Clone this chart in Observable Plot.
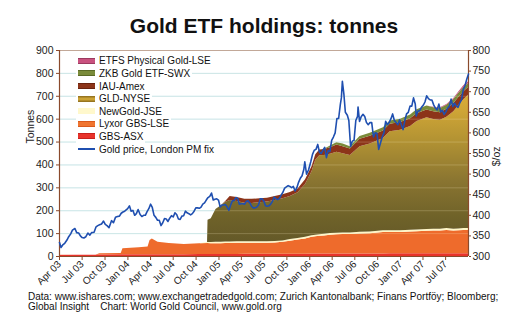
<!DOCTYPE html>
<html><head><meta charset="utf-8">
<script src="https://cdn.jsdelivr.net/npm/d3@7"></script>
<script src="https://cdn.jsdelivr.net/npm/@observablehq/plot@0.6"></script>
<style>
body{margin:0;background:#fff;font-family:"Liberation Sans",Arial,Helvetica,sans-serif;color:#111;}
#wrap{position:relative;width:517px;height:333px;overflow:hidden;}
#title{position:absolute;left:11px;width:506px;top:15px;line-height:21px;text-align:center;font-weight:bold;font-size:21px;color:#111;}
#chart{position:absolute;left:0;top:0;}
#legend{position:absolute;left:76px;top:55.4px;}
.row{height:12.6px;line-height:12.6px;font-size:10px;white-space:nowrap;}
.row span.bg{display:inline-block;background:#fff;padding:0 2px 0 2px;height:12.6px;}
.sw{display:inline-block;width:17px;height:6px;vertical-align:middle;margin-right:4px;margin-top:-2px;box-sizing:border-box;}
#caption{position:absolute;left:28px;top:292px;font-size:10px;line-height:10px;color:#111;white-space:pre;}
</style>
</head><body>
<div id="wrap">
  <div id="chart"></div>
  <div id="title">Gold ETF holdings: tonnes</div>
  <div id="legend"></div>
  <div id="caption"></div>
</div>
<script>
// ---------- data ----------
const stackDates = ["2003-04-01","2003-06-01","2003-08-25","2003-09-10","2003-12-05","2003-12-12","2004-02-15","2004-03-22","2004-03-30","2004-04-08",
"2004-05-01","2004-06-15","2004-08-15","2004-10-15","2004-11-16","2004-11-18","2004-12-01","2004-12-20","2005-01-10","2005-01-28",
"2005-02-15","2005-03-15","2005-04-15","2005-05-15","2005-06-15","2005-07-15","2005-08-15","2005-09-15","2005-10-15","2005-11-15",
"2005-12-15","2006-01-10","2006-01-25","2006-02-10","2006-03-01","2006-03-25","2006-04-20","2006-05-15","2006-06-13","2006-07-22",
"2006-09-01","2006-10-24","2006-11-20","2007-01-01","2007-02-10","2007-03-08","2007-04-17","2007-05-14","2007-06-10","2007-07-06",
"2007-08-03","2007-08-23","2007-09-12","2007-10-01"];
// tonnes held by each fund (layer thickness)
const gbsAsx  = [4,5,5,7,8,8,8,8,8,8, 8,8,8,9,9,9,9,9,9,9, 9,9,10,10,10,10,10,10,10,10, 10,11,11,11,11,11,11,11,11,11, 11,11,12,12,12,12,12,12,12,12, 12,12,12,12];
const lyxor   = [1,1,1,5,5,26,30,34,62,68, 54,49,44,47,48,48,47,47,47,48, 48,49,48,48,48,48,49,52,57,62, 67,73,75,77,79,82,84,85,85,87, 88,94,93,93,95,96,98,99,99,102, 99,100,102,102];
const newGold = [0,0,0,0,0,0,0,0,0,0, 0,0,0,0,4,4,5,6,6,6, 6,6,6,6,6,6,6,6,7,7, 7,7,7,7,7,7,7,7,7,8, 8,8,8,8,8,8,8,8,8,8, 8,8,8,8];
const gld     = [0,0,0,0,0,0,0,0,0,0, 0,0,0,0,0,97,104,143,160,174, 182,176,169,168,171,174,180,184,188,199, 231,279,327,345,344,347,353,346,338,374, 385,402,432,439,453,474,488,479,476,486, 513,540,563,583];
const iau     = [0,0,0,0,0,0,0,0,0,0, 0,0,0,0,0,0,0,0,0,3, 17,18,17,18,17,17,17,18,18,17, 20,22,25,25,26,28,32,31,29,32, 33,33,33,33,34,34,34,34,33,35, 36,35,35,33];
const zkb     = [0,0,0,0,0,0,0,0,0,0, 0,0,0,0,0,0,0,0,0,0, 0,0,0,0,0,0,0,0,0,0, 0,0,0,0,2,8,10,12,10,12, 13,14,14,15,16,17,17,18,19,18, 18,18,18,18];
const etfs    = [0,0,0,0,0,0,0,0,0,0, 0,0,0,0,0,0,0,0,0,0, 0,0,0,0,0,0,0,0,0,0, 0,0,0,0,0,0,0,0,0,0, 0,0,0,0,0,0,1,2,3,3, 4,6,8,8];

const seriesNames  = ["GBS-ASX","Lyxor GBS-LSE","NewGold-JSE","GLD-NYSE","IAU-Amex","ZKB Gold ETF-SWX","ETFS Physical Gold-LSE"];
const seriesValues = [gbsAsx, lyxor, newGold, gld, iau, zkb, etfs];
const seriesColors = ["#e8332b","#ee6b2c","#fff6c6","url(#gldGrad)","#8c3419","#7a8b3a","#c8507e"];

// Gold price, London PM fix ($/oz)
const priceDates = ["2003-04-01","2003-04-07","2003-04-14","2003-04-22","2003-05-01","2003-05-08","2003-05-16","2003-05-23","2003-06-02","2003-06-09","2003-06-17","2003-06-24",
"2003-07-01","2003-07-08","2003-07-16","2003-07-24","2003-08-01","2003-08-08","2003-08-18","2003-08-26","2003-09-02","2003-09-09","2003-09-17","2003-09-25",
"2003-10-02","2003-10-09","2003-10-17","2003-10-27","2003-11-04","2003-11-12","2003-11-20","2003-11-28","2003-12-05","2003-12-12","2003-12-19","2003-12-31",
"2004-01-07","2004-01-14","2004-01-21","2004-01-28","2004-02-04","2004-02-11","2004-02-19","2004-02-26","2004-03-04","2004-03-11","2004-03-18","2004-03-25",
"2004-04-01","2004-04-08","2004-04-15","2004-04-22","2004-04-29","2004-05-06","2004-05-13","2004-05-20","2004-05-27","2004-06-03","2004-06-10","2004-06-17","2004-06-24",
"2004-07-01","2004-07-08","2004-07-15","2004-07-22","2004-07-29","2004-08-05","2004-08-12","2004-08-19","2004-08-26","2004-09-02","2004-09-09","2004-09-16","2004-09-23","2004-09-30",
"2004-10-07","2004-10-14","2004-10-21","2004-10-28","2004-11-04","2004-11-11","2004-11-18","2004-11-25","2004-12-02","2004-12-09","2004-12-16","2004-12-23","2004-12-30",
"2005-01-06","2005-01-13","2005-01-20","2005-01-27","2005-02-03","2005-02-10","2005-02-17","2005-02-24","2005-03-03","2005-03-10","2005-03-17","2005-03-24","2005-03-31",
"2005-04-07","2005-04-14","2005-04-21","2005-04-28","2005-05-05","2005-05-12","2005-05-19","2005-05-26","2005-06-02","2005-06-09","2005-06-16","2005-06-23","2005-06-30",
"2005-07-07","2005-07-14","2005-07-21","2005-07-28","2005-08-04","2005-08-11","2005-08-18","2005-08-25","2005-09-01","2005-09-08","2005-09-15","2005-09-22","2005-09-29",
"2005-10-06","2005-10-13","2005-10-20","2005-10-27","2005-11-03","2005-11-10","2005-11-17","2005-11-24","2005-12-01","2005-12-08","2005-12-12","2005-12-19","2005-12-27",
"2006-01-05","2006-01-12","2006-01-19","2006-01-26","2006-02-02","2006-02-09","2006-02-16","2006-02-23","2006-03-02","2006-03-09","2006-03-16","2006-03-23","2006-03-30",
"2006-04-06","2006-04-13","2006-04-20","2006-04-27","2006-05-04","2006-05-08","2006-05-12","2006-05-18","2006-05-24","2006-06-01","2006-06-07","2006-06-14","2006-06-21","2006-06-28",
"2006-07-05","2006-07-12","2006-07-14","2006-07-20","2006-07-27","2006-08-03","2006-08-10","2006-08-17","2006-08-24","2006-08-31","2006-09-07","2006-09-14","2006-09-21","2006-09-28",
"2006-10-05","2006-10-12","2006-10-19","2006-10-26","2006-11-02","2006-11-09","2006-11-16","2006-11-23","2006-11-30","2006-12-07","2006-12-14","2006-12-21","2006-12-28",
"2007-01-04","2007-01-11","2007-01-18","2007-01-25","2007-02-01","2007-02-08","2007-02-15","2007-02-22","2007-03-01","2007-03-05","2007-03-12","2007-03-19","2007-03-26",
"2007-04-02","2007-04-09","2007-04-16","2007-04-23","2007-04-30","2007-05-07","2007-05-14","2007-05-21","2007-05-28","2007-06-04","2007-06-11","2007-06-18","2007-06-25",
"2007-07-02","2007-07-09","2007-07-16","2007-07-23","2007-07-30","2007-08-06","2007-08-13","2007-08-20","2007-08-27","2007-09-03","2007-09-10","2007-09-17","2007-09-24","2007-10-01"];
const goldPrice = [334,322,328,332,340,348,355,364,368,358,357,350,
346,345,348,357,352,358,359,372,375,377,379,386,
378,375,370,387,382,395,397,398,405,408,410,416,
423,410,412,400,404,414,402,397,400,400,409,416,
427,419,400,395,388,388,375,382,392,391,385,393,399,
396,406,402,391,390,398,399,410,406,404,401,404,410,418,
418,417,420,427,430,437,443,446,454,437,439,440,437,
420,425,425,426,420,412,425,435,436,443,441,427,428,
428,427,434,435,430,422,418,418,420,425,440,440,435,
423,422,423,427,434,444,440,438,441,449,456,466,469,
472,470,467,470,459,467,480,490,496,511,530,500,510,
530,548,558,560,572,553,550,558,565,540,557,555,582,
590,600,635,635,670,685,725,695,650,643,630,567,580,582,
630,640,663,628,640,645,640,625,620,625,625,590,600,599,
560,575,590,600,628,620,625,634,646,630,625,620,632,
620,608,630,646,650,665,665,685,670,641,653,654,662,
667,675,690,683,680,680,668,660,656,670,651,655,645,
651,660,665,682,664,672,665,662,673,681,705,715,730,743];

const tonneTicks = [0,100,200,300,400,500,600,700,800,900];
const priceTicks = [300,350,400,450,500,550,600,650,700,750,800];
const quarterTicks = ["2003-04-01","2003-07-01","2003-10-01","2004-01-01","2004-04-01","2004-07-01","2004-10-01","2005-01-01","2005-04-01",
"2005-07-01","2005-10-01","2006-01-01","2006-04-01","2006-07-01","2006-10-01","2007-01-01","2007-04-01","2007-07-01"];
const xStart = "2003-04-01", xEnd = "2007-10-01";
const priceAxisMin = 300, priceAxisMax = 800;

const legendLabels = ["ETFS Physical Gold-LSE","ZKB Gold ETF-SWX","IAU-Amex","GLD-NYSE","NewGold-JSE","Lyxor GBS-LSE","GBS-ASX","Gold price, London PM fix"];
const legendSwatch = [
  "background:#c9527f;border-top:1px solid #9c3a5f;border-bottom:1px solid #9c3a5f",
  "background:#7a8b3a;border-top:1px solid #5b6a26;border-bottom:1px solid #5b6a26",
  "background:#8c3419;border-top:1px solid #6a230e;border-bottom:1px solid #6a230e",
  "background:linear-gradient(#8a6a1c,#d9ae3a 50%,#8a6a1c)",
  "background:#fff8cc",
  "background:#f07530;border-top:1px solid #d95a1c;border-bottom:1px solid #d95a1c",
  "background:#e8332b;border-top:1px solid #c8201c;border-bottom:1px solid #c8201c",
  "height:2px;background:#1f4fb0;margin-top:-1px"
];
const captionText = "Data: www.ishares.com; www.exchangetradedgold.com; Zurich Kantonalbank; Finans Portföy; Bloomberg;\nGlobal Insight    Chart: World Gold Council, www.gold.org";

// ---------- build ----------
const toT = p => (p - priceAxisMin) * 900 / (priceAxisMax - priceAxisMin);
const rows = [];
seriesNames.forEach((s, i) => {
  stackDates.forEach((d, j) => rows.push({date: new Date(d), series: s, value: seriesValues[i][j]}));
});
const priceRows = priceDates.map((d, i) => ({date: new Date(d), price: goldPrice[i]}));
const brown = "#8a4a2c";

const chart = Plot.plot({
  width: 517, height: 290,
  marginTop: 50, marginBottom: 34, marginLeft: 59, marginRight: 49,
  style: {fontFamily: '"Liberation Sans", Arial, sans-serif', fontSize: "10.5px", color: "#222", background: "transparent", overflow: "visible"},
  x: {type: "utc", domain: [new Date(xStart), new Date(xEnd)]},
  y: {domain: [0, 900]},
  color: {domain: seriesNames, range: seriesColors},
  marks: [
    Plot.ruleY(tonneTicks.slice(1, -1), {stroke: "#bfe4f0", strokeWidth: 1}),
    Plot.areaY(rows, Plot.stackY({x: "date", y: "value", z: "series", fill: "series", order: seriesNames})),
    Plot.ruleY(tonneTicks.slice(1, -1), {stroke: "#fff0c8", strokeOpacity: 0.22}),
    Plot.ruleY([900], {stroke: "#c2a898"}),
    Plot.ruleY([0], {stroke: brown}),
    Plot.ruleX([new Date(xStart)], {stroke: brown, strokeWidth: 1.2}),
    Plot.ruleX([new Date(xEnd)], {stroke: brown, strokeWidth: 1.2}),
    Plot.lineY(priceRows, {x: "date", y: d => toT(d.price), stroke: "#1f4fb0", strokeWidth: 1.6}),
    Plot.axisY(tonneTicks, {anchor: "left", tickSize: 3, tickPadding: 3, stroke: brown, fill: "#222", label: null}),
    Plot.axisY(priceTicks.map(toT), {anchor: "right", tickSize: 2, tickPadding: 2, stroke: brown, fill: "#222", label: null,
      tickFormat: t => String(Math.round(t * (priceAxisMax - priceAxisMin) / 900 + priceAxisMin))}),
    Plot.axisX(quarterTicks.map(d => new Date(d)), {anchor: "bottom", tickSize: 4, tickPadding: 2, tickRotate: -45, stroke: brown, fill: "#222", label: null,
      tickFormat: d3.utcFormat("%b %y"), fontSize: 10}),
    Plot.text(["Tonnes"], {frameAnchor: "left", dx: -29, dy: -10, rotate: -90, fontSize: 10.5, fill: "#222"}),
    Plot.text(["$/oz"], {frameAnchor: "right", dx: 28, dy: -7, rotate: -90, fontSize: 10.5, fill: "#222"})
  ]
});
const ns = "http://www.w3.org/2000/svg";
const defs = document.createElementNS(ns, "defs");
defs.innerHTML = '<linearGradient id="gldGrad" gradientUnits="userSpaceOnUse" x1="0" y1="256" x2="0" y2="62">' +
  '<stop offset="0" stop-color="#5e5428"/><stop offset="0.2" stop-color="#6f6229"/><stop offset="0.39" stop-color="#8a7531"/>' +
  '<stop offset="0.6" stop-color="#b39333"/><stop offset="0.75" stop-color="#cfa536"/><stop offset="1" stop-color="#f2bf3c"/></linearGradient>';
chart.insertBefore(defs, chart.firstChild);
document.getElementById("chart").appendChild(chart);

const legend = document.getElementById("legend");
legendLabels.forEach((lab, i) => {
  const r = document.createElement("div");
  r.className = "row";
  r.innerHTML = `<span class="bg"><span class="sw" style="${legendSwatch[i]}"></span>${lab}</span>`;
  legend.appendChild(r);
});
document.getElementById("caption").textContent = captionText;
</script>
</body></html>
